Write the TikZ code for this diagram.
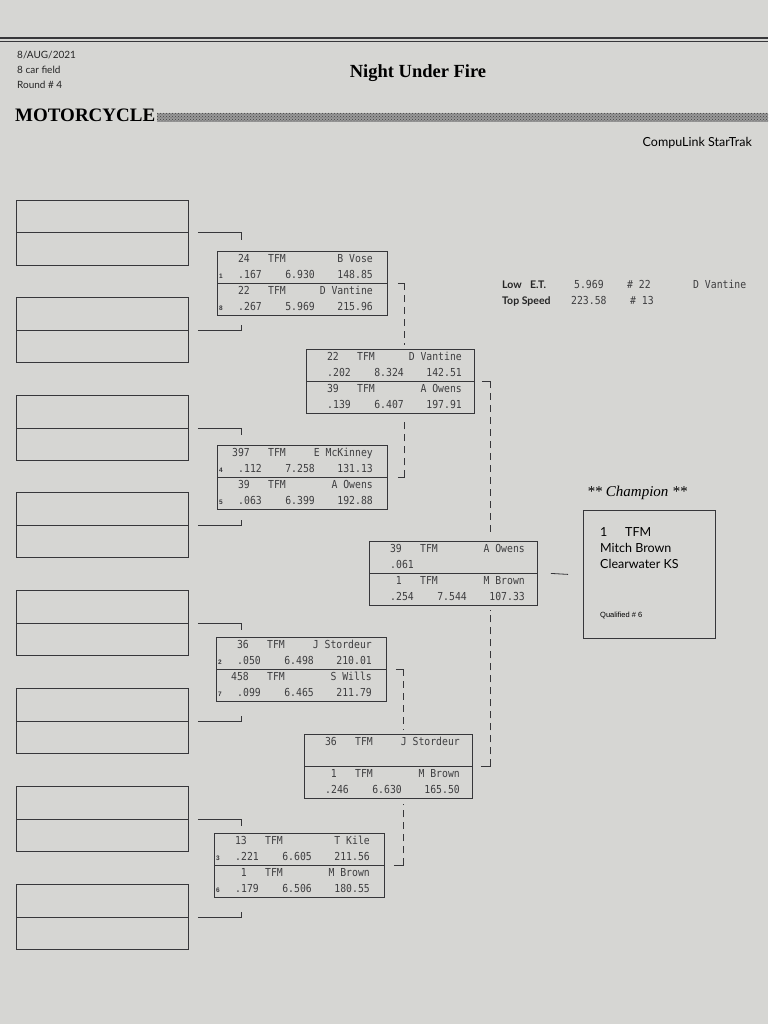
\documentclass[tikz,border=0pt]{standalone}
\usepackage{fontspec}
\setmainfont{Liberation Serif}
\newfontfamily\monofont[FakeStretch=0.89]{DejaVu Sans Mono}
\newfontfamily\gillfont{Lato}
\newfontfamily\arialfont{Liberation Sans}
\usetikzlibrary{calc,patterns}
\definecolor{paper}{RGB}{214,214,211}
\definecolor{ink}{RGB}{55,55,58}
\definecolor{monoc}{RGB}{62,62,64}
\tikzset{
  mbox/.style={draw=ink, line width=0.8pt, minimum width=#1, minimum height=64pt, inner sep=0pt, anchor=north west},
  mbox/.default=170pt,
  lbox/.style={draw=ink, line width=0.8pt, minimum width=172pt, minimum height=65pt, inner sep=0pt, anchor=north west},
  txt/.style={font=\monofont\fontsize{11}{13}\selectfont, text=monoc, inner sep=0pt},
  seedtxt/.style={font=\arialfont\bfseries\fontsize{6.5}{7}\selectfont, text=ink, inner sep=0pt},
  conn/.style={draw=ink, line width=0.8pt},
  dconn/.style={draw=ink, line width=0.8pt, dash pattern=on 7pt off 5pt},
  hdr/.style={font=\gillfont\fontsize{10}{12}\selectfont, text=black!85, inner sep=0pt, anchor=base west},
  lbl/.style={font=\gillfont\bfseries\fontsize{10.5}{12}\selectfont, text=black!85, inner sep=0pt, anchor=base west},
  champtxt/.style={font=\gillfont\fontsize{12.5}{14}\selectfont, inner sep=0pt, anchor=base west},
}
% top line of an entry: node, offset, car number, name
\newcommand\toprow[4]{%
  \node[txt,anchor=base east] (#1#2num) at ($(#1.north west)+(33,#2+11)$) {#3};
  \node[txt,anchor=base west] (#1#2cls) at ($(#1.north west)+(51,#2+11)$) {TFM};
  \node[txt,anchor=base east] (#1#2nam) at ($(#1.north west)+(156,#2+11)$) {#4};
}
% bottom line of an entry: node, offset, seed, rt, et, speed
\newcommand\botrow[6]{%
  \node[seedtxt,anchor=base west] (#1#2sd) at ($(#1.north west)+(2,#2+27)$) {#3};
  \node[txt,anchor=base east] (#1#2rt) at ($(#1.north west)+(45,#2+27)$) {#4};
  \node[txt,anchor=base east] (#1#2et) at ($(#1.north west)+(98,#2+27)$) {#5};
  \node[txt,anchor=base east] (#1#2sp) at ($(#1.north west)+(156,#2+27)$) {#6};
}
\newcommand\divider[1]{\draw[conn] (#1.west) -- (#1.east);}
\begin{document}
\begin{tikzpicture}[x=1pt,y=-1pt]
\useasboundingbox (0,0) rectangle (768,1024);
\fill[paper] (0,0) rectangle (768,1024);

% header
\fill[ink] (0,37.5) rectangle (768,39);
\fill[ink] (0,41.5) rectangle (768,42.3);
\node[hdr] (date) at (17,59) {8/AUG/2021};
\node[hdr] (field) at (17,74) {8 car field};
\node[hdr] (round) at (17,89) {Round \# 4};
\node[font=\bfseries\fontsize{18.5}{20}\selectfont, inner sep=0pt, anchor=base] (title) at (418,78) {Night Under Fire};
\node[font=\bfseries\fontsize{19}{21}\selectfont, inner sep=0pt, anchor=base west] (cat) at (15,122) {MOTORCYCLE};
\fill[black!40] (157,113) rectangle (768,122);
\fill[pattern=crosshatch dots, pattern color=black!75] (157,113) rectangle (768,122);
\node[font=\gillfont\fontsize{12.5}{14}\selectfont, inner sep=0pt, anchor=base east] (brand) at (752,147) {CompuLink StarTrak};

% low ET / top speed
\node[lbl] (lowlbl) at (502,288) {Low};
\node[lbl] (etlbl) at (530,288) {E.T.};
\node[txt,anchor=base west] (lowet) at (574,288) {5.969};
\node[txt,anchor=base west] (lowno) at (627,288) {\# 22};
\node[txt,anchor=base west] (lowname) at (693,288) {D Vantine};
\node[lbl] (toplbl) at (502,304) {Top Speed};
\node[txt,anchor=base west] (topsp) at (571,304) {223.58};
\node[txt,anchor=base west] (topno) at (630,304) {\# 13};

% left empty boxes
\foreach \i/\y in {1/200,2/297,3/395,4/492,5/590,6/688,7/786,8/884}{
  \node[lbox] (l\i) at (16,\y) {};
  \draw[conn] (l\i.west) -- (l\i.east);
}
\foreach \i in {1,3,5,7}{
  \draw[conn] ($(l\i.east)+(9,0)$) -- ($(l\i.east)+(53,0)$) -- ($(l\i.east)+(53,7)$);
}
\foreach \i in {2,4,6,8}{
  \draw[conn] ($(l\i.east)+(9,0)$) -- ($(l\i.east)+(53,0)$) -- ($(l\i.east)+(53,-5)$);
}

% round 1
\node[mbox] (r1a) at (217,251) {}; \divider{r1a}
\toprow{r1a}{0}{24}{B Vose} \botrow{r1a}{0}{1}{.167}{6.930}{148.85}
\toprow{r1a}{32}{22}{D Vantine} \botrow{r1a}{32}{8}{.267}{5.969}{215.96}

\node[mbox] (r1b) at (217,445) {}; \divider{r1b}
\toprow{r1b}{0}{397}{E McKinney} \botrow{r1b}{0}{4}{.112}{7.258}{131.13}
\toprow{r1b}{32}{39}{A Owens} \botrow{r1b}{32}{5}{.063}{6.399}{192.88}

\node[mbox] (r1c) at (216,637) {}; \divider{r1c}
\toprow{r1c}{0}{36}{J Stordeur} \botrow{r1c}{0}{2}{.050}{6.498}{210.01}
\toprow{r1c}{32}{458}{S Wills} \botrow{r1c}{32}{7}{.099}{6.465}{211.79}

\node[mbox] (r1d) at (214,833) {}; \divider{r1d}
\toprow{r1d}{0}{13}{T Kile} \botrow{r1d}{0}{3}{.221}{6.605}{211.56}
\toprow{r1d}{32}{1}{M Brown} \botrow{r1d}{32}{6}{.179}{6.506}{180.55}

% round 2
\node[mbox=168pt] (r2a) at (306,349) {}; \divider{r2a}
\toprow{r2a}{0}{22}{D Vantine} \botrow{r2a}{0}{}{.202}{8.324}{142.51}
\toprow{r2a}{32}{39}{A Owens} \botrow{r2a}{32}{}{.139}{6.407}{197.91}

\node[mbox=168pt] (r2b) at (304,734) {}; \divider{r2b}
\toprow{r2b}{0}{36}{J Stordeur}
\toprow{r2b}{32}{1}{M Brown} \botrow{r2b}{32}{}{.246}{6.630}{165.50}

% final
\node[mbox=168pt] (fin) at (369,541) {}; \divider{fin}
\toprow{fin}{0}{39}{A Owens} \botrow{fin}{0}{}{.061}{}{}
\toprow{fin}{32}{1}{M Brown} \botrow{fin}{32}{}{.254}{7.544}{107.33}

% champion
\node[font=\itshape\fontsize{15}{17}\selectfont, inner sep=0pt, anchor=base west] (champlbl) at (587,496) {** Champion **};
\node[draw=ink, line width=0.8pt, minimum width=132pt, minimum height=128pt, inner sep=0pt, anchor=north west] (champ) at (583,510) {};
\node[champtxt] (chno) at (600,536) {1};
\node[champtxt] (chcls) at (625,536) {TFM};
\node[champtxt] (chname) at (600,552) {Mitch Brown};
\node[champtxt] (chtown) at (600,568) {Clearwater KS};
\node[font=\arialfont\fontsize{7.5}{8}\selectfont, inner sep=0pt, anchor=base west] (chq) at (600,617) {Qualified \# 6};

% connectors between rounds
\draw[conn] ($(r1a.east)+(10,0)$) -- ($(r1a.east)+(17,0)$);
\draw[dconn] ($(r1a.east)+(17,0)$) -- ($(r1a.east |- r2a.north)+(17,-4)$);
\draw[conn] ($(r1b.east)+(10,0)$) -- ($(r1b.east)+(17,0)$);
\draw[dconn] ($(r1b.east)+(17,0)$) -- ($(r1b.east |- r2a.south)+(17,4)$);
\draw[conn] ($(r1c.east)+(9,0)$) -- ($(r1c.east)+(17,0)$);
\draw[dconn] ($(r1c.east)+(17,0)$) -- ($(r1c.east |- r2b.north)+(17,-4)$);
\draw[conn] ($(r1d.east)+(9,0)$) -- ($(r1d.east)+(19,0)$);
\draw[dconn] ($(r1d.east)+(19,0)$) -- ($(r1d.east |- r2b.south)+(19,5)$);
\draw[conn] ($(r2a.east)+(7,0)$) -- ($(r2a.east)+(16,0)$);
\draw[dconn] ($(r2a.east)+(16,0)$) -- ($(r2a.east |- fin.north)+(16,-5)$);
\draw[conn] ($(r2b.east)+(8,0)$) -- ($(r2b.east)+(18,0)$);
\draw[dconn] ($(r2b.east)+(18,0)$) -- ($(r2b.east |- fin.south)+(18,4)$);
\draw[conn] ($(fin.east)+(13,0)$) -- ($(champ.west)+(-15,0)$);
\end{tikzpicture}
\end{document}
